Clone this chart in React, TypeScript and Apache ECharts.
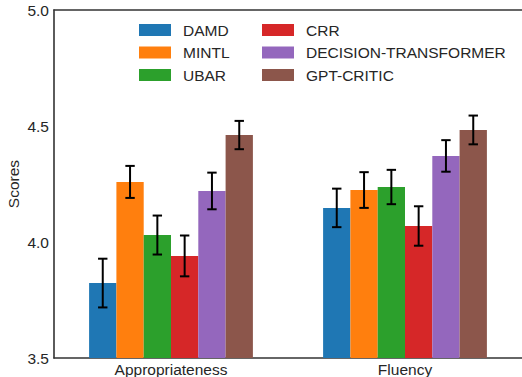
import React, { useEffect, useRef } from "react";
import * as echarts from "echarts";

const categories = ["Appropriateness", "Fluency"];
const seriesNames = ["DAMD", "MINTL", "UBAR", "CRR", "DECISION-TRANSFORMER", "GPT-CRITIC"];
const colors = ["#1f77b4", "#ff7f0e", "#2ca02c", "#d62728", "#9467bd", "#8c564b"];
// values per series: [Appropriateness, Fluency]
const damd = [3.823, 4.147];
const mintl = [4.259, 4.224];
const ubar = [4.03, 4.237];
const crr = [3.94, 4.069];
const decisionTransformer = [4.22, 4.371];
const gptCritic = [4.461, 4.483];
// error half-widths per series: [Appropriateness, Fluency]
const damdErr = [0.105, 0.083];
const mintlErr = [0.069, 0.077];
const ubarErr = [0.084, 0.074];
const crrErr = [0.088, 0.085];
const decisionTransformerErr = [0.079, 0.068];
const gptCriticErr = [0.061, 0.062];
const yTicks = [3.5, 4.0, 4.5, 5.0];

const values = [damd, mintl, ubar, crr, decisionTransformer, gptCritic];
const errors = [damdErr, mintlErr, ubarErr, crrErr, decisionTransformerErr, gptCriticErr];

const FONT = "'Liberation Sans', Arial, sans-serif";
const TEXT = "#262626";
const AXIS = "#333333";
const FS = 15.5;

export default function App() {
  const ref = useRef<HTMLDivElement>(null);
  useEffect(() => {
    if (!ref.current) return;
    const chart = echarts.init(ref.current, undefined, { renderer: "svg" });
    const nSeries = seriesNames.length;
    const groupFrac = 0.7;

    const barSeries = seriesNames.map((name, i) => ({
      name,
      type: "bar",
      data: values[i],
      barGap: "0%",
      barCategoryGap: "30%",
      itemStyle: { color: colors[i] },
      z: 2,
    }));

    const errData: number[][] = [];
    values.forEach((vals, s) => {
      vals.forEach((v, c) => {
        errData.push([c, v - errors[s][c], v + errors[s][c], s]);
      });
    });

    const errSeries = {
      type: "custom",
      name: "err",
      z: 10,
      renderItem: (params: any, api: any) => {
        const c = api.value(0);
        const lo = api.value(1);
        const hi = api.value(2);
        const s = api.value(3);
        const band = api.size([1, 0])[0];
        const barW = (band * groupFrac) / nSeries;
        const p1 = api.coord([c, lo]);
        const p2 = api.coord([c, hi]);
        const x = p1[0] + (s - (nSeries - 1) / 2) * barW;
        const cap = 4.7;
        const style = { stroke: "#000", lineWidth: 2, fill: "none" };
        return {
          type: "group",
          children: [
            { type: "line", shape: { x1: x, y1: p1[1], x2: x, y2: p2[1] }, style },
            { type: "line", shape: { x1: x - cap, y1: p1[1], x2: x + cap, y2: p1[1] }, style },
            { type: "line", shape: { x1: x - cap, y1: p2[1], x2: x + cap, y2: p2[1] }, style },
          ],
        };
      },
      encode: { x: 0, y: [1, 2] },
      data: errData,
      silent: true,
    };

    const legendCommon = {
      orient: "vertical",
      icon: "rect",
      itemWidth: 32,
      itemHeight: 12,
      itemGap: 6.5,
      padding: 0,
      textStyle: {
        fontFamily: FONT,
        fontSize: FS,
        color: TEXT,
        lineHeight: 16,
        padding: [0, 0, 0, 7],
      },
    };

    chart.setOption({
      animation: false,
      backgroundColor: "#ffffff",
      textStyle: { fontFamily: FONT },
      grid: {
        left: 54,
        right: 0,
        top: 10,
        bottom: 19,
        containLabel: false,
        outerBoundsMode: "none",
      },
      legend: [
        { ...legendCommon, left: 139, top: 22, data: seriesNames.slice(0, 3) },
        { ...legendCommon, left: 262, top: 22, data: seriesNames.slice(3) },
      ],
      xAxis: [
        {
          type: "category",
          data: categories,
          axisLine: { show: true, lineStyle: { color: AXIS, width: 1.6 } },
          axisTick: { show: false },
          axisLabel: { fontFamily: FONT, fontSize: FS, color: TEXT, margin: 3 },
          splitLine: { show: false },
        },
        {
          type: "category",
          data: categories,
          position: "top",
          axisLine: { show: true, lineStyle: { color: AXIS, width: 1.6 } },
          axisTick: { show: false },
          axisLabel: { show: false },
          splitLine: { show: false },
        },
      ],
      yAxis: {
        type: "value",
        min: yTicks[0],
        max: yTicks[yTicks.length - 1],
        interval: 0.5,
        name: "Scores",
        nameLocation: "middle",
        nameGap: 33,
        nameMoveOverlap: false,
        nameTextStyle: { fontFamily: FONT, fontSize: FS, color: TEXT },
        axisLine: { show: true, lineStyle: { color: AXIS, width: 1.6 } },
        axisTick: { show: false },
        axisLabel: {
          fontFamily: FONT,
          fontSize: FS,
          color: TEXT,
          margin: 5,
          formatter: (v: number) => v.toFixed(1),
        },
        splitLine: { show: false },
      },
      series: [...barSeries, errSeries],
    });
    return () => chart.dispose();
  }, []);
  return (
    <div
      ref={ref}
      style={{ position: "absolute", left: 0, top: 0, width: 522, height: 377 }}
    />
  );
}
